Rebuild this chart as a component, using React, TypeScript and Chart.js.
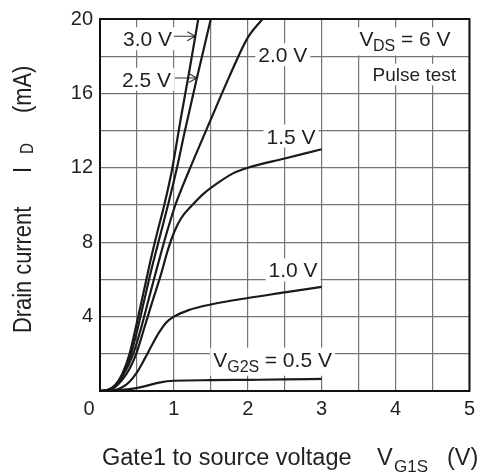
import React, { useEffect, useRef } from "react";
import { Chart, registerables } from "chart.js";

Chart.register(...registerables);

const FONT = '"Liberation Sans", Arial, Helvetica, sans-serif';
const INK = "#231f20";
const GRID = "#747474";
const CURVE = "#1a1a1a";

// Tick labels
const xTickValues = [1, 2, 3, 4, 5];
const xTickLabels = ["1", "2", "3", "4", "5"];
const yTickValues = [4, 8, 12, 16, 20];
const yTickLabels = ["4", "8", "12", "16", "20"];

// Series names (V_G2S)
const seriesNames = ["0.5 V", "1.0 V", "1.5 V", "2.0 V", "2.5 V", "3.0 V"];

// V_G2S = 0.5 V
const vg1s05 = [0, 0.2, 0.4, 0.6, 0.8, 1.0, 1.5, 2.0, 2.5, 3.0];
const id05 = [0, 0.02, 0.1, 0.25, 0.45, 0.55, 0.58, 0.6, 0.62, 0.65];

// V_G2S = 1.0 V
const vg1s10 = [0, 0.2, 0.3, 0.4, 0.5, 0.6, 0.7, 0.8, 0.9, 1.0, 1.2, 1.5, 2.0, 2.5, 3.0];
const id10 = [0, 0.05, 0.2, 0.5, 1.0, 1.7, 2.45, 3.15, 3.7, 4.0, 4.35, 4.65, 5.0, 5.3, 5.6];

// V_G2S = 1.5 V
const vg1s15 = [0, 0.1, 0.2, 0.3, 0.4, 0.49, 0.6, 0.7, 0.82, 0.92, 1.01, 1.1, 1.25, 1.4, 1.6, 1.8, 2.0, 2.5, 3.0];
const id15 = [0, 0.03, 0.2, 0.6, 1.2, 2.0, 3.4, 4.7, 6.2, 7.6, 8.6, 9.3, 10.0, 10.6, 11.2, 11.7, 12.0, 12.5, 13.0];

// V_G2S = 2.0 V
const vg1s20 = [0, 0.1, 0.2, 0.3, 0.45, 0.55, 0.65, 0.75, 0.91, 1.02, 1.2, 1.5, 1.75, 2.0, 2.2];
const id20 = [0, 0.04, 0.25, 0.75, 2.0, 3.3, 4.8, 6.3, 8.6, 10.0, 11.8, 14.6, 16.9, 19.0, 20];

// V_G2S = 2.5 V
const vg1s25 = [0, 0.1, 0.2, 0.3, 0.42, 0.5, 0.6, 0.7, 0.83, 0.92, 1.03, 1.15, 1.31, 1.5];
const id25 = [0, 0.05, 0.28, 0.85, 2.0, 3.2, 4.9, 6.6, 8.6, 10.0, 11.8, 14.0, 16.8, 20];

// V_G2S = 3.0 V
const vg1s30 = [0, 0.1, 0.2, 0.3, 0.4, 0.5, 0.6, 0.7, 0.78, 0.87, 0.97, 1.1, 1.2, 1.33];
const id30 = [0, 0.05, 0.3, 0.9, 2.0, 3.7, 5.5, 7.3, 8.6, 10.0, 11.8, 14.8, 17.0, 20];

const seriesX = [vg1s05, vg1s10, vg1s15, vg1s20, vg1s25, vg1s30];
const seriesY = [id05, id10, id15, id20, id25, id30];

type Part = { t: string; dx: number; size: number; dy: number };
type Label = { x: number; y: number; parts: Part[] };

// In-plot labels: anchor = (left edge, cap centre) in data units
const labels: Label[] = [
  { x: 0.311, y: 18.94, parts: [{ t: "3.0 V", dx: 0, size: 21, dy: 0 }] },
  { x: 0.297, y: 16.76, parts: [{ t: "2.5 V", dx: 0, size: 21, dy: 0 }] },
  { x: 2.143, y: 18.08, parts: [{ t: "2.0 V", dx: 0, size: 21, dy: 0 }] },
  { x: 2.253, y: 13.71, parts: [{ t: "1.5 V", dx: 0, size: 21, dy: 0 }] },
  { x: 2.28, y: 6.51, parts: [{ t: "1.0 V", dx: 0, size: 21, dy: 0 }] },
  {
    x: 1.533,
    y: 1.71,
    parts: [
      { t: "V", dx: 0, size: 21, dy: 0 },
      { t: "G2S", dx: 14, size: 16, dy: 5 },
      { t: "= 0.5 V", dx: 51.5, size: 21, dy: 0 },
    ],
  },
  {
    x: 3.511,
    y: 18.93,
    parts: [
      { t: "V", dx: 0, size: 21, dy: 0 },
      { t: "DS", dx: 13.5, size: 16, dy: 5 },
      { t: "= 6 V", dx: 41.5, size: 21, dy: 0 },
    ],
  },
  { x: 3.689, y: 17.01, parts: [{ t: "Pulse test", dx: 0, size: 19, dy: 0 }] },
];

// Arrows (data units): from -> to
const arrows = [
  { x1: 1.0, x2: 1.289, y: 19.07 },
  { x1: 1.013, x2: 1.31, y: 16.83 },
];

const near = (v: number, list: number[]) => list.findIndex((w) => Math.abs(w - v) < 1e-6);

const textPlugin = {
  id: "datasheetText",
  beforeDatasetsDraw(chart: any) {
    const ctx: CanvasRenderingContext2D = chart.ctx;
    const xs = chart.scales.x;
    const ys = chart.scales.y;
    ctx.save();
    // label boxes + text
    for (const lb of labels) {
      const left = xs.getPixelForValue(lb.x);
      const cy = ys.getPixelForValue(lb.y);
      const mainSize = lb.parts[0].size;
      const cap = mainSize * 0.716;
      const base = cy + cap / 2;
      let right = left;
      let maxDy = 0;
      for (const p of lb.parts) {
        ctx.font = `${p.size}px ${FONT}`;
        right = Math.max(right, left + p.dx + ctx.measureText(p.t).width);
        maxDy = Math.max(maxDy, p.dy);
      }
      ctx.fillStyle = "#ffffff";
      ctx.fillRect(left - 3, base - cap - 4, right - left + 6, cap + 8 + maxDy);
      ctx.fillStyle = INK;
      ctx.textAlign = "left";
      ctx.textBaseline = "alphabetic";
      for (const p of lb.parts) {
        ctx.font = `${p.size}px ${FONT}`;
        ctx.fillText(p.t, left + p.dx, base + p.dy);
      }
    }
    // arrows
    ctx.strokeStyle = "#333";
    ctx.lineWidth = 1.1;
    for (const a of arrows) {
      const x1 = xs.getPixelForValue(a.x1);
      const x2 = xs.getPixelForValue(a.x2);
      const y = ys.getPixelForValue(a.y);
      ctx.beginPath();
      ctx.moveTo(x1, y);
      ctx.lineTo(x2, y);
      ctx.moveTo(x2 - 8, y - 4.5);
      ctx.lineTo(x2, y);
      ctx.lineTo(x2 - 8, y + 4.5);
      ctx.stroke();
    }
    ctx.restore();
  },
  afterDraw(chart: any) {
    const ctx: CanvasRenderingContext2D = chart.ctx;
    const a = chart.chartArea;
    ctx.save();
    // frame
    ctx.strokeStyle = "#111";
    ctx.lineWidth = 2;
    ctx.strokeRect(a.left, a.top, a.right - a.left, a.bottom - a.top);

    ctx.fillStyle = INK;
    // shared origin label
    ctx.font = `20px ${FONT}`;
    ctx.textAlign = "center";
    ctx.textBaseline = "alphabetic";
    ctx.fillText("0", a.left - 11, a.bottom + 24);

    // x-axis title
    ctx.textAlign = "left";
    const xb = a.bottom + 74;
    ctx.font = `23.5px ${FONT}`;
    ctx.fillText("Gate1 to source voltage", a.left + 2, xb);
    ctx.fillText("V", a.left + 277, xb);
    ctx.font = `17px ${FONT}`;
    ctx.fillText("G1S", a.left + 294, xb + 7);
    ctx.font = `23.5px ${FONT}`;
    ctx.fillText("(V)", a.left + 347, xb);

    // y-axis title (rotated)
    const seg = (t: string, startY: number, size: number, dx: number) => {
      ctx.save();
      ctx.translate(31 + dx, startY);
      ctx.rotate(-Math.PI / 2);
      ctx.scale(0.84, 1);
      ctx.font = `${size}px ${FONT}`;
      ctx.fillText(t, 0, 0);
      ctx.restore();
    };
    seg("Drain current", 333, 26, 0);
    seg("I", 173, 26, 0);
    seg("D", 154, 18, 1.5);
    seg("(mA)", 113, 26, 0);
    ctx.restore();
  },
};

export default function App() {
  const ref = useRef<HTMLCanvasElement | null>(null);
  useEffect(() => {
    if (!ref.current) return;
    const datasets = seriesNames.map((name, i) => ({
      label: name,
      data: seriesX[i].map((x, k) => ({ x, y: seriesY[i][k] })),
      borderColor: CURVE,
      borderWidth: 2.2,
      pointRadius: 0,
      fill: false,
      tension: 0.4,
      cubicInterpolationMode: "monotone" as const,
    }));
    const chart = new Chart(ref.current, {
      type: "line",
      data: { datasets },
      options: {
        animation: false,
        responsive: false,
        maintainAspectRatio: false,
        layout: { padding: { top: 16, right: 6, left: 0, bottom: 0 } },
        plugins: { legend: { display: false }, tooltip: { enabled: false } },
        scales: {
          x: {
            type: "linear",
            min: 0,
            max: 5,
            afterFit: (s: any) => {
              s.height = 85;
            },
            ticks: {
              stepSize: 0.5,
              autoSkip: false,
              maxRotation: 0,
              padding: 6,
              color: INK,
              font: { family: FONT, size: 20 },
              callback: (v: any) => {
                const i = near(Number(v), xTickValues);
                return i >= 0 ? xTickLabels[i] : "";
              },
            },
            grid: { color: GRID, lineWidth: 1.2, drawTicks: false },
            border: { display: false },
          },
          y: {
            type: "linear",
            min: 0,
            max: 20,
            afterFit: (s: any) => {
              s.width = 100;
            },
            ticks: {
              stepSize: 2,
              autoSkip: false,
              padding: 7,
              color: INK,
              font: { family: FONT, size: 20 },
              callback: (v: any) => {
                const i = near(Number(v), yTickValues);
                return i >= 0 ? yTickLabels[i] : "";
              },
            },
            grid: { color: GRID, lineWidth: 1.2, drawTicks: false },
            border: { display: false },
          },
        },
      },
      plugins: [textPlugin],
    });
    return () => chart.destroy();
  }, []);
  return (
    <div style={{ position: "absolute", left: 0, top: 0, width: 481, height: 476, background: "#fff" }}>
      <canvas ref={ref} width={481} height={476} style={{ display: "block", width: 481, height: 476 }} />
    </div>
  );
}
